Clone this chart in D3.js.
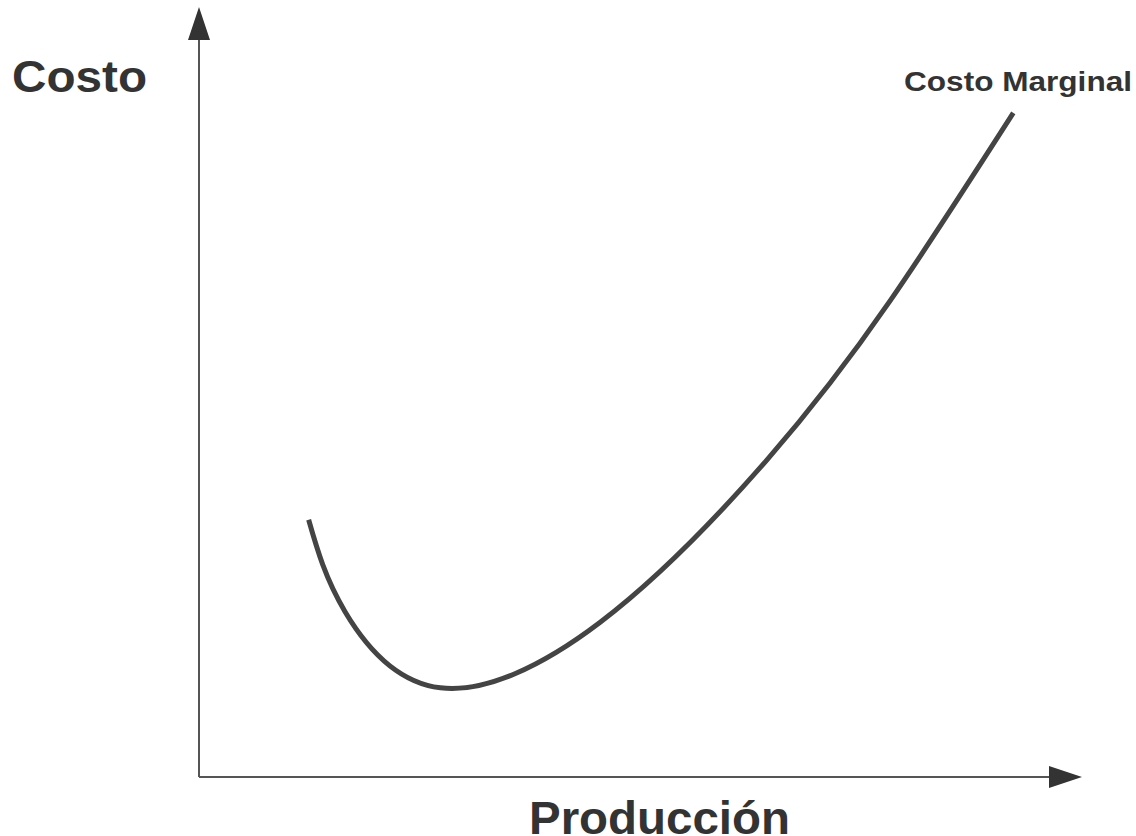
<!DOCTYPE html>
<html>
<head>
<meta charset="utf-8">
<script src="https://cdn.jsdelivr.net/npm/d3@7"></script>
<style>
  html, body { margin: 0; padding: 0; background: #fff; }
  svg { display: block; }
</style>
</head>
<body>
<div id="chart"></div>
<script>
// Data (abstract units: production vs cost)
const production = [12.9, 17.2, 28.4, 47.2, 66.8, 81.3, 95.8];
const cost       = [34.9, 22.4, 12.1, 21.0, 43.0, 64.6, 90.1];
const seriesName = "Costo Marginal";
const xTitle = "Producción";
const yTitle = "Costo";

const W = 1136, H = 836;
const svg = d3.select("#chart").append("svg").attr("width", W).attr("height", H);

const x = d3.scaleLinear().domain([0, 100]).range([199, 1049]);
const y = d3.scaleLinear().domain([0, 100]).range([777, 40]);

const axisColor = "#555";
const dark = "#333";

// Axes lines
svg.append("line").attr("x1", x(0)).attr("y1", y(0)).attr("x2", x(100)).attr("y2", y(0))
  .attr("stroke", axisColor).attr("stroke-width", 2);
svg.append("line").attr("x1", x(0)).attr("y1", y(0)).attr("x2", x(0)).attr("y2", y(100))
  .attr("stroke", axisColor).attr("stroke-width", 2);

// Arrowheads
const yTop = y(100);
svg.append("path")
  .attr("d", `M${x(0)},${yTop - 33} L${x(0) + 11},${yTop} L${x(0) - 11},${yTop} Z`)
  .attr("fill", dark);
const xEnd = x(100);
svg.append("path")
  .attr("d", `M${xEnd + 33},${y(0)} L${xEnd},${y(0) - 11} L${xEnd},${y(0) + 11} Z`)
  .attr("fill", dark);

// Curve
const pts = production.map((p, i) => [p, cost[i]]);
const line = d3.line().x(d => x(d[0])).y(d => y(d[1])).curve(d3.curveNatural);
svg.append("path").datum(pts).attr("d", line)
  .attr("fill", "none").attr("stroke", "#444").attr("stroke-width", 5);

// Texts
const font = "'Liberation Sans', Arial, sans-serif";
svg.append("text").attr("x", 12).attr("y", 92).text(yTitle)
  .attr("font-family", font).attr("font-weight", "bold").attr("font-size", 45)
  .attr("textLength", 135).attr("lengthAdjust", "spacingAndGlyphs").attr("fill", dark);
svg.append("text").attr("x", 529).attr("y", 834).text(xTitle)
  .attr("font-family", font).attr("font-weight", "bold").attr("font-size", 47)
  .attr("textLength", 261).attr("lengthAdjust", "spacingAndGlyphs").attr("fill", dark);
svg.append("text").attr("x", 904).attr("y", 91).text(seriesName)
  .attr("font-family", font).attr("font-weight", "bold").attr("font-size", 28)
  .attr("textLength", 228).attr("lengthAdjust", "spacingAndGlyphs").attr("fill", dark);
</script>
</body>
</html>
